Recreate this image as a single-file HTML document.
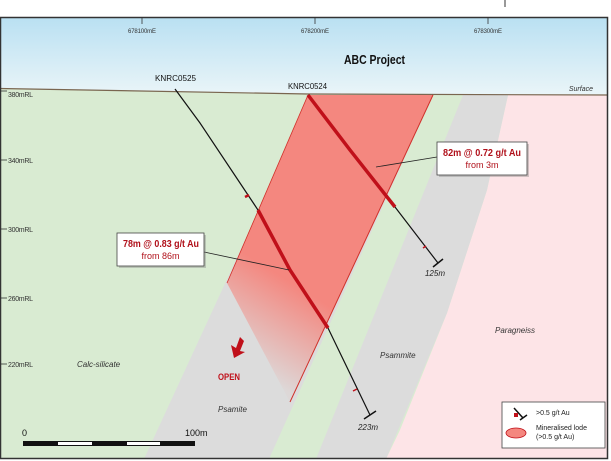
<!DOCTYPE html>
<html><head><meta charset="utf-8"><style>
html,body{margin:0;padding:0;background:#fff;}
svg{display:block;font-family:"Liberation Sans",sans-serif;}
</style></head><body>
<svg width="611" height="461" viewBox="0 0 611 461" xmlns="http://www.w3.org/2000/svg">
<defs>
<linearGradient id="sky" x1="0" y1="0" x2="0" y2="1">
<stop offset="0" stop-color="#b9e0f2"/><stop offset="1" stop-color="#eaf5f8"/>
</linearGradient>
<linearGradient id="lode" gradientUnits="userSpaceOnUse" x1="295" y1="285" x2="245" y2="365">
<stop offset="0" stop-color="#f4877f"/><stop offset="1" stop-color="#f4877f" stop-opacity="0.05"/>
</linearGradient>
</defs>
<rect x="0" y="17" width="608" height="442" fill="#d9ebd2"/>
<polygon points="0,17 608,17 608,95 420,95 308,94 0,88.5" fill="url(#sky)"/>
<polygon points="508,95 608,95 608,459 386,459 400,430 447,313 487,190" fill="#fde4e7"/>
<polygon points="463,95 508,95 487,190 447,313 386,459 316,459" fill="#dcdcdc"/>
<polygon points="312,95 433,95 269,459 144,459" fill="#dcdcdc"/>
<polygon points="308,95 433,95 290,402 227,283" fill="url(#lode)"/>
<line x1="433" y1="95" x2="290" y2="402" stroke="#d0302a" stroke-width="1"/>
<line x1="308" y1="95" x2="227" y2="283" stroke="#d0302a" stroke-width="0.8"/>
<polyline points="0,88.5 308,94 608,95" fill="none" stroke="#7a6650" stroke-width="1.2"/>
<rect x="0.5" y="17.5" width="607" height="441" fill="none" stroke="#333" stroke-width="1.5"/>
<line x1="505" y1="0" x2="505" y2="7" stroke="#333"/>
<g stroke="#333" stroke-width="0.8"><line x1="142" y1="17" x2="142" y2="24"/><line x1="315" y1="17" x2="315" y2="24"/><line x1="488" y1="17" x2="488" y2="24"/></g>
<g font-size="6" fill="#333" text-anchor="middle"><text x="142" y="33" textLength="28">678100mE</text><text x="315" y="33" textLength="28">678200mE</text><text x="488" y="33" textLength="28">678300mE</text></g>
<text x="344" y="64" font-size="13" font-weight="bold" fill="#111" textLength="61" lengthAdjust="spacingAndGlyphs">ABC Project</text>
<g stroke="#333" stroke-width="0.8"><line x1="0" y1="91" x2="7" y2="91"/><line x1="0" y1="160" x2="7" y2="160"/><line x1="0" y1="229" x2="7" y2="229"/><line x1="0" y1="298" x2="7" y2="298"/><line x1="0" y1="364" x2="7" y2="364"/></g>
<g font-size="7" fill="#333"><text x="8" y="97" textLength="25">380mRL</text><text x="8" y="163" textLength="25">340mRL</text><text x="8" y="232" textLength="25">300mRL</text><text x="8" y="301" textLength="25">260mRL</text><text x="8" y="367" textLength="25">220mRL</text></g>
<text x="593" y="91" font-size="7" font-style="italic" fill="#333" text-anchor="end">Surface</text>
<text x="155" y="81" font-size="8" fill="#111" textLength="41" lengthAdjust="spacingAndGlyphs">KNRC0525</text>
<text x="288" y="89" font-size="8" fill="#111" textLength="39" lengthAdjust="spacingAndGlyphs">KNRC0524</text>
<polyline points="175,89 200,123 258,210 290,270 328,328 370,415" fill="none" stroke="#111" stroke-width="1.2"/>
<polyline points="258,210 290,270 328,328" fill="none" stroke="#c0101a" stroke-width="3.5"/>
<line x1="364" y1="419" x2="376" y2="411" stroke="#111" stroke-width="1.5"/>
<line x1="245" y1="197" x2="249" y2="195" stroke="#c0101a" stroke-width="2.5"/>
<line x1="353" y1="391" x2="357" y2="389" stroke="#c0101a" stroke-width="1.5"/>
<text x="368" y="430" font-size="8" font-style="italic" fill="#222" text-anchor="middle">223m</text>
<polyline points="308,95 350,150 395,207 438,263" fill="none" stroke="#111" stroke-width="1.2"/>
<polyline points="308,95 350,150 395,207" fill="none" stroke="#c0101a" stroke-width="3.5"/>
<line x1="433" y1="267" x2="443" y2="259" stroke="#111" stroke-width="1.5"/>
<line x1="423" y1="248" x2="426" y2="246" stroke="#c0101a" stroke-width="1.5"/>
<text x="435" y="276" font-size="8" font-style="italic" fill="#222" text-anchor="middle">125m</text>
<line x1="204" y1="252" x2="289" y2="270" stroke="#222" stroke-width="0.8"/>
<rect x="119" y="235" width="87" height="33" fill="#888" opacity="0.4"/>
<rect x="117" y="233" width="87" height="33" fill="#fff" stroke="#444" stroke-width="0.8"/>
<text x="123" y="247" font-size="10" font-weight="bold" fill="#b0101a" textLength="76" lengthAdjust="spacingAndGlyphs">78m @ 0.83 g/t Au</text>
<text x="160.5" y="259" font-size="9" fill="#b0101a" text-anchor="middle">from 86m</text>
<line x1="376" y1="167" x2="437" y2="157" stroke="#222" stroke-width="0.8"/>
<rect x="439" y="144" width="90" height="33" fill="#888" opacity="0.4"/>
<rect x="437" y="142" width="90" height="33" fill="#fff" stroke="#444" stroke-width="0.8"/>
<text x="443" y="156" font-size="10" font-weight="bold" fill="#b0101a" textLength="78" lengthAdjust="spacingAndGlyphs">82m @ 0.72 g/t Au</text>
<text x="482" y="168" font-size="9" fill="#b0101a" text-anchor="middle">from 3m</text>
<g font-size="8" font-style="italic" fill="#333">
<text x="77" y="367">Calc-silicate</text><text x="218" y="412">Psamite</text><text x="380" y="358">Psammite</text><text x="495" y="333">Paragneiss</text></g>
<text x="218" y="380" font-size="9" font-weight="bold" fill="#c0101a" textLength="22" lengthAdjust="spacingAndGlyphs">OPEN</text>
<polygon points="244,341 240,337 236,348 231,345 234,358 245,352 240,351" fill="#c0101a"/>
<rect x="23" y="441" width="172" height="5" fill="#111"/>
<rect x="58" y="442" width="34" height="3" fill="#fff"/><rect x="127" y="442" width="33" height="3" fill="#fff"/>
<text x="22" y="436" font-size="9" fill="#111">0</text>
<text x="185" y="436" font-size="9" fill="#111">100m</text>
<rect x="502" y="402" width="103" height="46" fill="#fff" stroke="#444" stroke-width="0.8"/>
<line x1="514" y1="408" x2="523" y2="418" stroke="#111" stroke-width="1.5"/>
<line x1="520" y1="420" x2="527" y2="415" stroke="#111" stroke-width="1.5"/>
<rect x="514" y="413" width="4" height="4" fill="#c0101a"/>
<ellipse cx="516" cy="433" rx="10" ry="5" fill="#f4877f" stroke="#c0101a" stroke-width="0.8"/>
<g font-size="7" fill="#222"><text x="536" y="415">&gt;0.5 g/t Au</text><text x="536" y="430">Mineralised lode</text><text x="536" y="439">(&gt;0.5 g/t Au)</text></g>
</svg>
</body></html>
